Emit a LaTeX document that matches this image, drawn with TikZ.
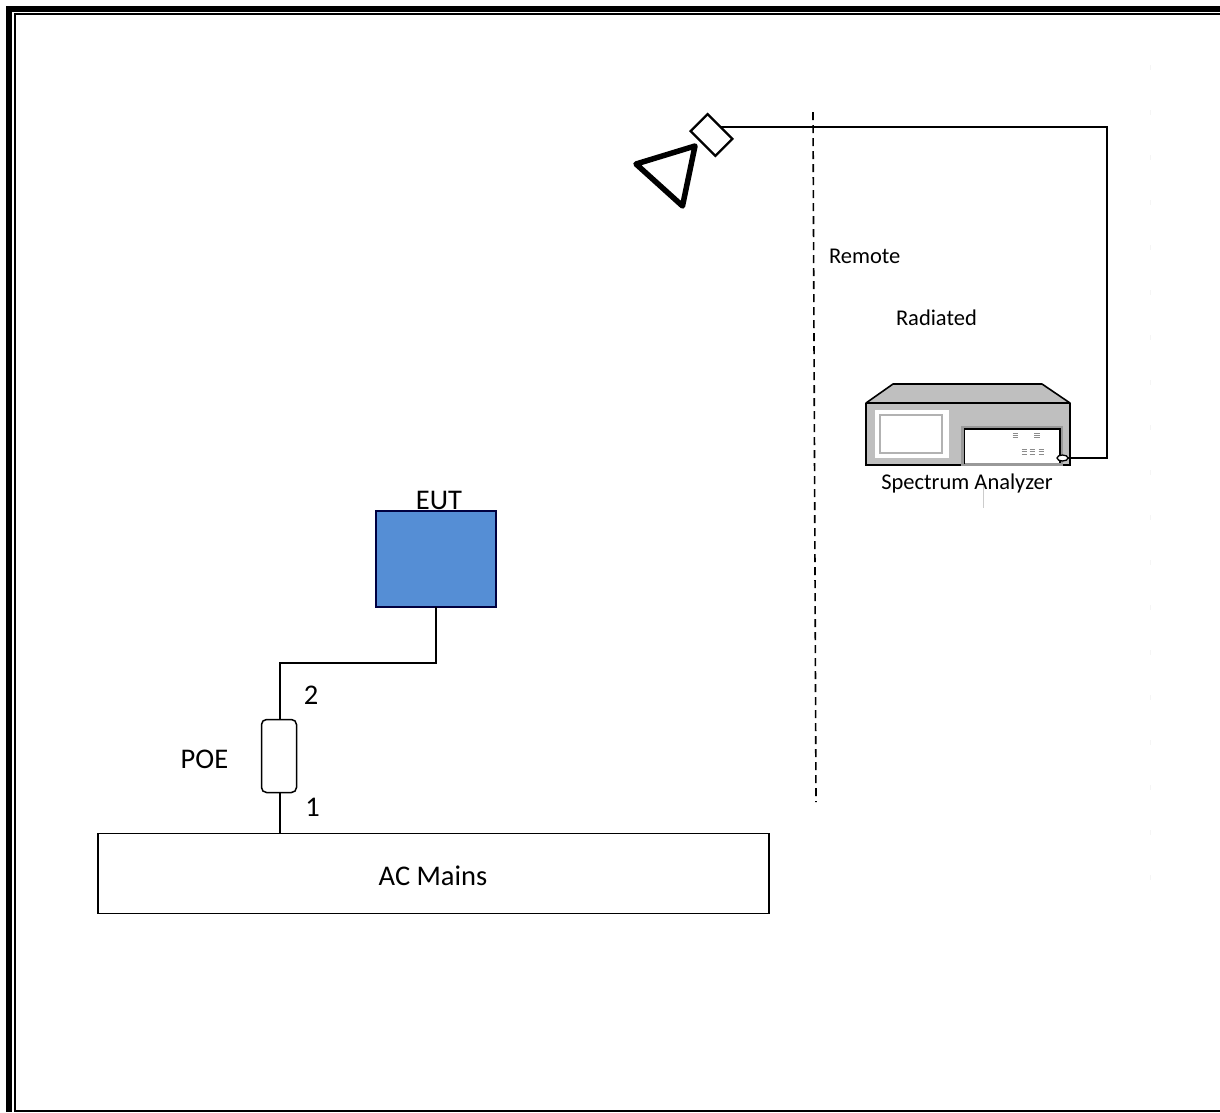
\documentclass[tikz,border=0pt]{standalone}
\usepackage{fontspec}
\usetikzlibrary{shapes.geometric}
\setmainfont{Carlito}
\tikzset{
  x=1pt,y=-1pt,
  wire/.style={draw=black,line width=1.6pt},
  lbl/.style={inner sep=0pt,outer sep=0pt,text=black,font=\fontsize{28.5}{32}\selectfont},
  smalllbl/.style={inner sep=0pt,outer sep=0pt,text=black,font=\fontsize{22.5}{26}\selectfont},
  box/.style={draw=black,line width=1.5pt,inner sep=0pt,outer sep=0pt},
  dots/.style={draw=black!45,line width=1pt},
}
\begin{document}
\begin{tikzpicture}
\useasboundingbox (0,0) rectangle (1220,1112);
\fill[white] (0,0) rectangle (1220,1112);
% frame
\fill[black] (6,6) rectangle (1220,12);
\fill[black] (6,6) rectangle (12,1112);
\fill[black] (14,13) rectangle (1220,15);
\fill[black] (14,13) rectangle (16,1112);
\fill[black] (14,1110) rectangle (1220,1112);
% faint trace
\draw[black!4,line width=0.6pt,dash pattern=on 5pt off 40pt] (1150,65) -- (1150,920);
% AC mains
\node[box,minimum width=671pt,minimum height=80pt,anchor=north west] (mains) at (98,833.5) {};
\node[lbl] (mainsl) at (433,876) {AC Mains};
% POE
\node[box,rounded corners=5pt,minimum width=35pt,minimum height=73pt,anchor=north west] (poe) at (261.5,719.5) {};
% EUT
\node[draw=black!75!blue,line width=1.5pt,outer sep=0pt,fill={rgb,255:red,85;green,142;blue,213},minimum width=120pt,minimum height=96pt,anchor=north west,inner sep=0pt] (eut) at (376,511) {};
\node[lbl,anchor=south] (eutl) at (439,510) {EUT};
\coordinate (ec) at (436,663);
\coordinate (pc) at (280,663);
\draw[wire,line join=miter] (eut.south -| ec) -- (ec) -- (pc) -- (poe.north -| pc);
\draw[wire] (poe.south -| pc) -- (mains.north -| pc);
\node[lbl] (two) at (311,695) {2};
\node[lbl] (one) at (312.5,807.5) {1};
\node[lbl] (poel) at (204.5,759) {POE};
% dashed
\coordinate (da) at (813,112);
\coordinate (db) at (816,802);
\draw[black,line width=1.6pt,dash pattern=on 8pt off 5pt] (da) -- (db);
\node[smalllbl,anchor=west] (remote) at (829,256) {Remote};
\node[smalllbl,anchor=west] (radiated) at (896,318) {Radiated};
% antenna
\draw[black,line width=5.5pt,line join=round] (695,146) -- (636,164) -- (682.5,206) -- cycle;
\node[draw=black,line width=2.2pt,outer sep=0pt,fill=white,minimum width=35pt,minimum height=24pt,inner sep=0pt,rotate=-45] (feed) at (711.5,135) {};
% analyzer
\fill[black!25] (893,384) -- (1042,384) -- (1070,403) -- (866,403) -- cycle;
\fill[black!25] (866,403) rectangle (1070,465);
\draw[black,line width=1.6pt,line join=round] (866,403) -- (893,384) -- (1042,384) -- (1070,403) -- cycle;
\draw[black,line width=1.6pt] (866,403) -- (866,465) -- (1070,465) -- (1070,403);
\fill[white] (875,410) rectangle (949,458);
\draw[black!30,line width=1.6pt] (880,415) rectangle (942,453);
\fill[black!40] (961,426) rectangle (1063,466);
\fill[white] (965,429) rectangle (1060,463);
\draw[black,line width=1.8pt] (964.5,464) -- (964.5,429) -- (1060,429) -- (1060,463);
\foreach \xx/\yy in {1015.5/433,1037/433,1024.5/449.5,1032.5/449.5,1041.5/449.5}{
  \foreach \k in {0,2.3,4.6}{\draw[dots] (\xx-2.8,\yy+\k) -- (\xx+2.8,\yy+\k);}
}
\node[draw=black,line width=1.3pt,outer sep=0pt,fill=white,ellipse,minimum width=11pt,minimum height=6pt,inner sep=0pt] (port) at (1062.5,458) {};
\coordinate (c1) at (1107,458);
\coordinate (c2) at (1107,127);
\draw[wire,line join=miter] (port.east) -- (c1) -- (c2) -- (721,127);
\draw[black!20,line width=1.3pt] (983.5,485) -- (983.5,508);
\node[smalllbl,anchor=center] (sa) at (967,483) {Spectrum Analyzer};
\end{tikzpicture}
\end{document}
